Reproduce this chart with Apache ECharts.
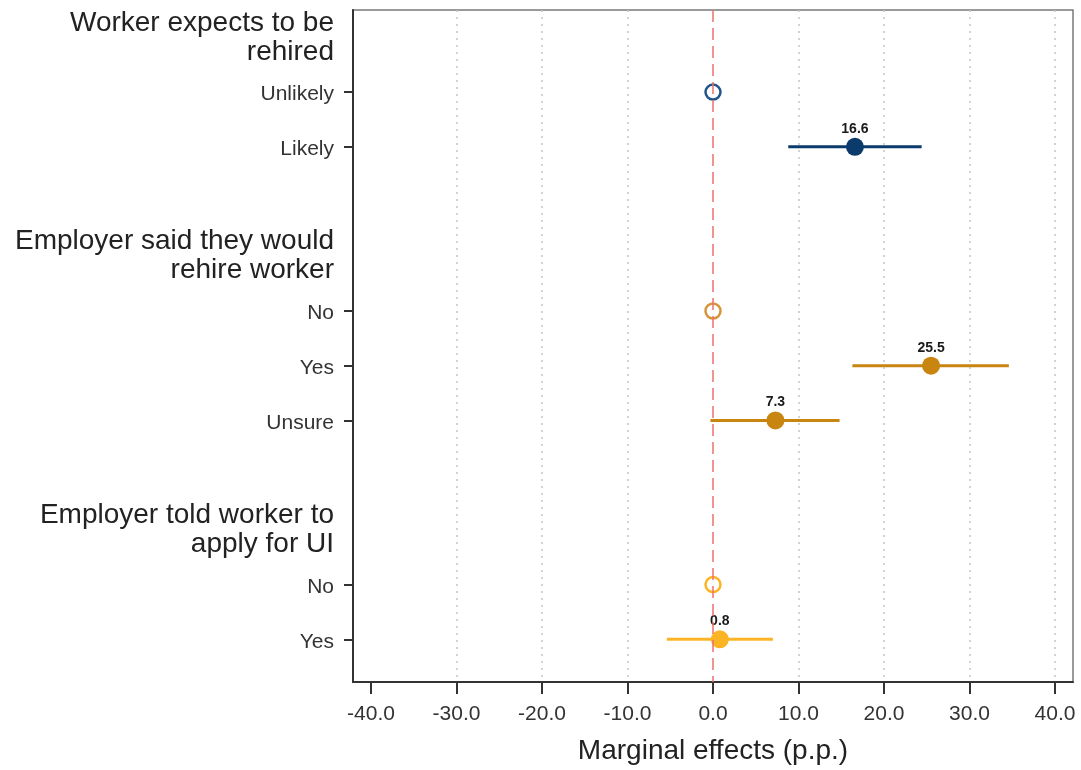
<!DOCTYPE html>
<html>
<head>
<meta charset="utf-8">
<script src="https://cdn.jsdelivr.net/npm/echarts@6/dist/echarts.min.js"></script>
<style>html,body{margin:0;padding:0;background:#fff;}#chart{width:1081px;height:770px;}</style>
</head>
<body>
<div id="chart"></div>
<script>
// ---- data ----
const headerRows = [0, 4, 9];
const headerTexts = [
  ['Worker expects to be', 'rehired'],
  ['Employer said they would', 'rehire worker'],
  ['Employer told worker to', 'apply for UI']
];
const itemRows = [1, 2, 5, 6, 7, 10, 11];
const itemLabels = ['Unlikely', 'Likely', 'No', 'Yes', 'Unsure', 'No', 'Yes'];
const estimates = [0, 16.6, 0, 25.5, 7.3, 0, 0.8];
const ciLow = [null, 8.8, null, 16.3, -0.3, null, -5.4];
const ciHigh = [null, 24.4, null, 34.6, 14.8, null, 7.0];
const groupOf = [0, 0, 1, 1, 1, 2, 2];
const isReference = [true, false, true, false, false, true, false];
const xTicks = [-40, -30, -20, -10, 0, 10, 20, 30, 40];
const gridValues = [-30, -20, -10, 10, 20, 30, 40];

const filledColors = ['#0b3b6c', '#c8850f', '#fbb424'];
const hollowColors = ['#24548a', '#d6953a', '#fbb424'];

const labelMap = {};
headerRows.forEach((r, i) => {
  labelMap[r] = headerTexts[i].map(t => '{h|' + t + '}').join('\n');
});
itemRows.forEach((r, i) => { labelMap[r] = '{c|' + itemLabels[i] + '}'; });

const barData = [];
const filledData = [];
const hollowData = [];
itemRows.forEach((r, i) => {
  if (ciLow[i] !== null) barData.push([ciLow[i], ciHigh[i], r, groupOf[i]]);
  const pt = { value: [estimates[i], r] };
  if (isReference[i]) {
    pt.itemStyle = { color: 'rgba(255,255,255,0)', borderColor: hollowColors[groupOf[i]], borderWidth: 2.5, opacity: 1 };
    hollowData.push(pt);
  } else {
    pt.itemStyle = { color: filledColors[groupOf[i]], opacity: 1 };
    filledData.push(pt);
  }
});

const chart = echarts.init(document.getElementById('chart'), null, { renderer: 'canvas' });
chart.setOption({
  animation: false,
  textStyle: { fontFamily: '"Liberation Sans", Arial, Helvetica, sans-serif' },
  grid: { left: 353, top: 10, width: 720, height: 672, containLabel: false, outerBoundsMode: 'none',
          show: true, borderColor: '#7a7a7a', borderWidth: 1.5, backgroundColor: '#fff' },
  xAxis: {
    type: 'value', min: -42.1, max: 42.1,
    axisLine: { show: true, onZero: false, lineStyle: { color: '#333', width: 2 } },
    axisTick: { show: true, customValues: xTicks, length: 12, lineStyle: { color: '#333', width: 2 } },
    axisLabel: { customValues: xTicks, formatter: v => v.toFixed(1), fontSize: 21, color: '#333', margin: 22 },
    splitLine: { show: false },
    name: 'Marginal effects (p.p.)', nameLocation: 'middle', nameGap: 55,
    nameTextStyle: { fontSize: 28, color: '#222' }
  },
  yAxis: {
    type: 'value', inverse: true, min: -0.5, max: 11.78,
    axisLine: { show: true, onZero: false, lineStyle: { color: '#333', width: 2 } },
    axisTick: { show: true, customValues: itemRows, length: 9, lineStyle: { color: '#333', width: 2 } },
    axisLabel: {
      customValues: headerRows.concat(itemRows).sort((a, b) => a - b),
      formatter: v => labelMap[v] || '',
      margin: 19,
      rich: {
        h: { fontSize: 28, lineHeight: 29, color: '#222', align: 'right' },
        c: { fontSize: 21, color: '#333', align: 'right', padding: [5, 0, 0, 0] }
      }
    },
    splitLine: { show: false }
  },
  series: [
    {
      type: 'scatter', data: [], silent: true, z: 1,
      markLine: {
        silent: true, symbol: 'none', label: { show: false }, animation: false,
        lineStyle: { color: '#c4c4c4', type: [2, 5], width: 1.5 },
        data: gridValues.map(v => ({ xAxis: v }))
      }
    },
    {
      type: 'custom', z: 3,
      encode: { x: [0, 1], y: 2 },
      data: barData,
      renderItem: function (params, api) {
        const p1 = api.coord([api.value(0), api.value(2)]);
        const p2 = api.coord([api.value(1), api.value(2)]);
        return {
          type: 'line',
          shape: { x1: p1[0], y1: p1[1], x2: p2[0], y2: p2[1] },
          style: { stroke: filledColors[api.value(3)], lineWidth: 3 }
        };
      }
    },
    {
      type: 'scatter', z: 4, symbol: 'circle', symbolSize: 18,
      itemStyle: { opacity: 1 },
      data: filledData,
      label: { show: true, position: 'top', distance: 2, formatter: p => p.value[0].toFixed(1), fontSize: 14, fontWeight: 'bold', color: '#1a1a1a' }
    },
    {
      type: 'scatter', z: 4, symbol: 'circle', symbolSize: 15,
      itemStyle: { opacity: 1 },
      data: hollowData
    },
    {
      type: 'scatter', data: [], silent: true, z: 5,
      markLine: {
        silent: true, symbol: 'none', label: { show: false }, animation: false,
        lineStyle: { color: '#f0706e', type: [12, 6], width: 1.5 },
        data: [{ xAxis: 0 }]
      }
    }
  ]
});
</script>
</body>
</html>
